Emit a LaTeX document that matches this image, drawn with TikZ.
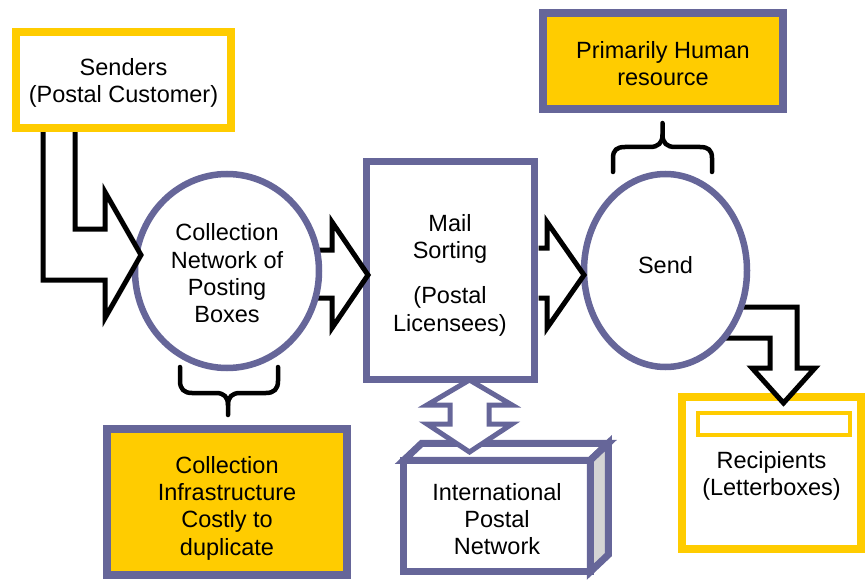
\documentclass[tikz,border=0pt]{standalone}
\usepackage{fontspec}
\setmainfont{Liberation Sans}
\usetikzlibrary{shapes.geometric}
\definecolor{gold}{HTML}{FFCC00}
\definecolor{slate}{HTML}{666699}
\definecolor{sidegray}{HTML}{D4D4D4}

\begin{document}
\begin{tikzpicture}[x=1pt,y=-1pt,
  lbl/.style={align=center,font=\fontsize{23.5}{27.3}\selectfont,inner sep=0pt,outer sep=0pt},
  bare/.style={inner sep=0pt,outer sep=0pt},
  goldbox/.style={bare,rectangle,draw=gold,line width=8pt,fill=white},
  slatebox/.style={bare,rectangle,draw=slate,line width=7pt,fill=white},
  notebox/.style={bare,rectangle,draw=slate,line width=8pt,fill=gold},
  oval/.style={bare,ellipse,draw=slate,line width=6.5pt,fill=white},
  txt/.style 2 args={label={[lbl,yshift=#1]center:{#2}}},
  blockarrow/.style={draw=black,line width=5pt,fill=white,line join=miter,miter limit=10},
  dblarrow/.style={draw=slate,line width=5pt,fill=white,line join=miter,miter limit=10},
  brace/.style={draw=black,line width=4.5pt,line cap=round,line join=round}
]
\useasboundingbox (0,0) rectangle (867,580);

% recipients (letterbox with slot)
\node[goldbox,minimum width=179pt,minimum height=152pt,
      txt={-3pt}{Recipients\\(Letterboxes)}] (recip) at (771.5,473) {};
\node[bare,rectangle,draw=gold,line width=4pt,fill=white,minimum width=152pt,minimum height=22pt] (slot) at (774,424) {};

% send -> recipients
\draw[blockarrow] (725,307) -- (797,307) -- (797,368) -- (815,368) -- (783.5,403)
  -- (752,368) -- (770,368) -- (770,338) -- (715,338);

% send
\node[oval,minimum width=163pt,minimum height=193pt,txt={5.5pt}{Send}] (send) at (665.5,270.5) {};

% mail sorting
\node[slatebox,minimum width=168pt,minimum height=217pt,
      txt={-4.5pt}{Mail\\Sorting\\[18pt](Postal\\Licensees)}] (sort) at (450,270.5) {};

% sorting -> send
\draw[blockarrow] (538.5,248) -- (547,248) -- (547,222) -- (584,275) -- (547,328)
  -- (547,298) -- (538.5,298);

% collection -> sorting
\draw[blockarrow] (305,250) -- (332,250) -- (332,222) -- (368,275) -- (332,328)
  -- (332,298) -- (305,298);

% collection network
\node[oval,minimum width=184pt,minimum height=194pt,
      txt={-2.5pt}{Collection\\Network of\\Posting\\Boxes}] (coll) at (227,271) {};

% senders -> collection
\draw[blockarrow] (43,132) -- (43,280) -- (105,280) -- (105,318) -- (141,255)
  -- (105,192) -- (105,229) -- (75,229) -- (75,132);

% senders
\node[goldbox,minimum width=215pt,minimum height=96pt,
      txt={-3pt}{Senders\\(Postal Customer)}] (senders) at (123.5,80) {};

% notes and their braces
\node[notebox,minimum width=240pt,minimum height=96pt,
      txt={-2.5pt}{Primarily Human\\resource}] (human) at (663,61) {};
\node[notebox,minimum width=240pt,minimum height=146pt,
      txt={-6pt}{Collection\\Infrastructure\\Costly to\\duplicate}] (infra) at (227,502) {};

\draw[brace] (180,367) -- (180,381) .. controls (180,389) and (184,393) .. (192,393)
  -- (216,393) .. controls (224,393) and (228,397) .. (228,405) -- (228,415);
\draw[brace] (278,367) -- (278,381) .. controls (278,389) and (274,393) .. (266,393)
  -- (240,393) .. controls (232,393) and (228,397) .. (228,405);

\draw[brace] (613,172) -- (613,158) .. controls (613,150) and (617,147) .. (625,147)
  -- (650,147) .. controls (658,147) and (662.5,143) .. (662.5,135) -- (662.5,123);
\draw[brace] (712,172) -- (712,158) .. controls (712,150) and (708,147) .. (700,147)
  -- (675,147) .. controls (667,147) and (662.5,143) .. (662.5,135);

% international postal network (box in perspective)
\node[slatebox,minimum width=186.5pt,minimum height=111.5pt,
      txt={-3pt}{International\\Postal\\Network}] (intl) at (497,516) {};
\draw[draw=slate,line width=7pt,fill=white,line join=miter]
  (intl.north west) -- ++(18,-17) -- ++(186.5,0) -- (intl.north east) -- cycle;
\draw[draw=slate,line width=7pt,fill=sidegray,line join=miter]
  (intl.north east) -- ++(18,-17) -- ++(0,111.5) -- (intl.south east) -- cycle;

% sorting <-> international
\draw[dblarrow] (469.5,380) -- (512,405) -- (489,405) -- (489,424) -- (512,424)
  -- (469.5,452) -- (427,424) -- (450,424) -- (450,405) -- (427,405) -- cycle;

\end{tikzpicture}
\end{document}
